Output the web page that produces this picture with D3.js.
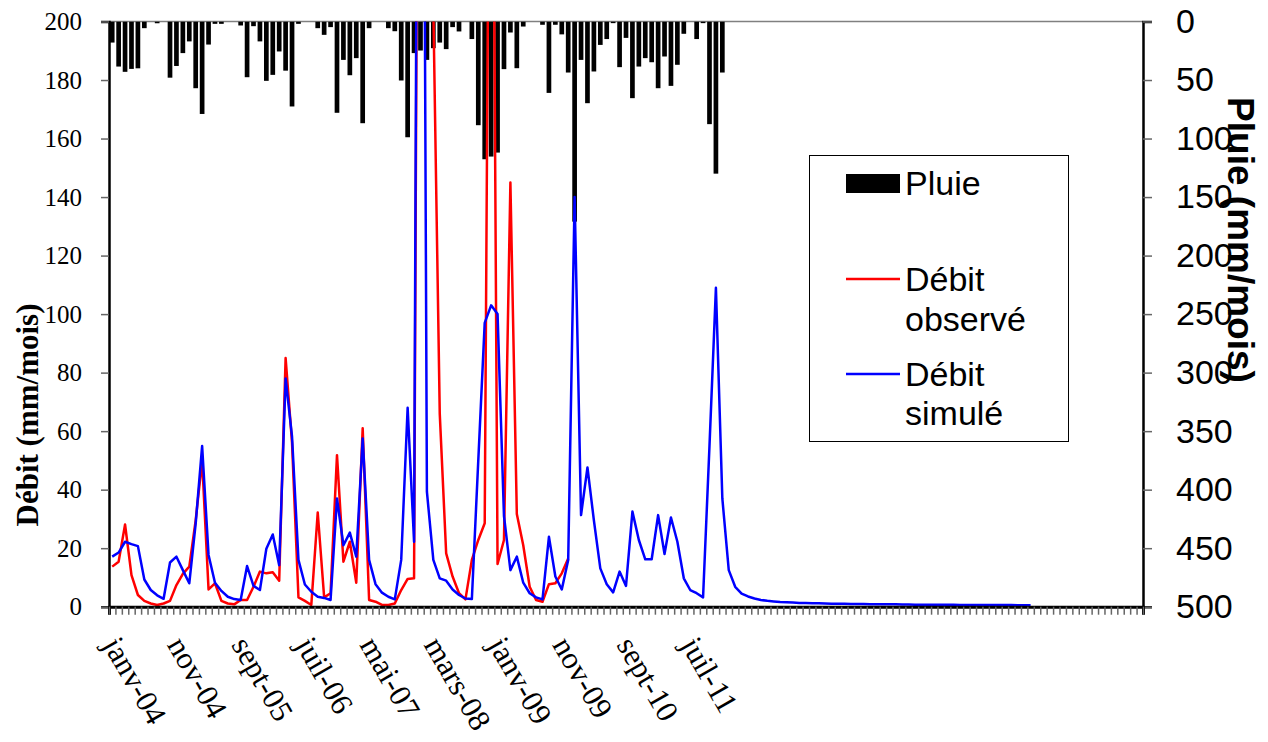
<!DOCTYPE html>
<html>
<head>
<meta charset="utf-8">
<script src="https://cdn.jsdelivr.net/npm/d3@7"></script>
<style>
  body { margin: 0; background: #fff; }
</style>
</head>
<body>
<div id="chart"></div>
<script>
// mois (format Excel fr) et nombre de catégories de l'axe
const moisFr = ['janv', 'févr', 'mars', 'avr', 'mai', 'juin', 'juil', 'août', 'sept', 'oct', 'nov', 'déc'];
const anneeDebut = 2004;
const nbCategories = 161;
const pasEtiquettes = 10;

const debitTicks = [0, 20, 40, 60, 80, 100, 120, 140, 160, 180, 200];
const pluieTicks = [0, 50, 100, 150, 200, 250, 300, 350, 400, 450, 500];

// pluie mensuelle (mm/mois), janv-04 -> déc-11
const pluie = [
  18, 38.5, 43, 40.5, 40, 5.7, 0, 1.5, 0, 48, 38, 27,
  17, 57, 79, 19.7, 2, 2, 0, 0, 3.4, 47.6, 4, 17,
  50.7, 45.6, 25.6, 42, 72.6, 2, 0, 0, 5.7, 11.4, 4.8, 78,
  32.8, 45.9, 31.3, 86.9, 5.7, 0, 0, 5.7, 8.3, 50.4, 98.9, 27,
  24.8, 32.8, 22.8, 18, 23.6, 4.8, 8.5, 0, 15, 88.6, 117.7, 115.4,
  112, 40.7, 9.4, 39.9, 4.3, 0, 0, 2.8, 61, 2.8, 11, 43.6,
  171, 32.8, 69.8, 42.7, 20, 15, 1.4, 39, 14, 65.5, 38.5, 31.3,
  34.8, 57, 29.9, 55, 37, 10.5, 0, 15, 1.4, 87.7, 130, 43.6
];

// débit observé (mm/mois), janv-04 -> déc-09
const debitObserve = [
  13.7, 15.4, 28.1, 10.8, 4, 2, 1.1, 0.6, 1.1, 2, 7.4, 11.2,
  13.7, 29.6, 50, 5.9, 8, 2, 1.1, 0.8, 2.3, 2.3, 6.8, 12,
  11.4, 11.8, 8.9, 85, 56, 3.2, 2, 0.6, 32.2, 3.2, 4.6, 51.8,
  15.4, 22.2, 8.2, 61, 2.3, 1.7, 0.6, 0.6, 1.1, 5.7, 9.5, 9.7,
  500, 400, 205, 66, 18.2, 10.3, 4.6, 2.5, 16, 22.8, 28.5, 385,
  14.6, 22.8, 145, 31.7, 21, 6.8, 2.3, 1.7, 7.7, 8, 11.4, 16.5
];

// débit simulé (mm/mois), janv-04 -> déc-15
const debitSimule = [
  17.1, 18.5, 22.2, 21.4, 20.7, 9.3, 5.7, 3.9, 2.7, 15.1, 17.1, 12.5,
  8, 28.5, 54.9, 17.7, 8.2, 5.4, 3.4, 2.6, 2.3, 13.9, 7.1, 5.7,
  19.8, 24.7, 14.2, 78, 58.1, 16, 7.6, 5.1, 3.4, 3, 2.3, 37,
  21, 25.3, 17.1, 57.5, 16, 7.7, 4.8, 3.4, 2.5, 16, 68, 22.2,
  550, 39.3, 16, 9.7, 8.9, 5.9, 4, 2.8, 2.6, 50, 97, 103,
  100, 31, 12.5, 17.1, 8.2, 4.6, 3.2, 2.5, 23.9, 10.3, 5.9, 16,
  140, 31.3, 47.6, 29.5, 13.1, 7.7, 4.9, 12, 7.1, 32.5, 22.8, 16.2,
  16.2, 31.3, 18, 30.5, 22.2, 9.7, 5.7, 4.6, 3.2, 55, 109, 37,
  12.5, 6.8, 4.5, 3.5, 2.8, 2.3, 2.0, 1.8, 1.6, 1.5, 1.4, 1.3,
  1.25, 1.2, 1.15, 1.1, 1.05, 1.0, 1.0, 0.95, 0.9, 0.9, 0.85, 0.85,
  0.8, 0.8, 0.8, 0.75, 0.75, 0.7, 0.7, 0.7, 0.7, 0.65, 0.65, 0.65,
  0.6, 0.6, 0.6, 0.6, 0.6, 0.55, 0.55, 0.55, 0.55, 0.5, 0.5, 0.5
];

const categories = d3.range(nbCategories).map(i => i < pluie.length
  ? `${moisFr[i % 12]}-${String((anneeDebut + Math.floor(i / 12)) % 100).padStart(2, '0')}`
  : '');

class PluieDebitChart {
  constructor(_config) {
    this.config = {
      parentElement: _config.parentElement,
      containerWidth: _config.containerWidth || 1268,
      containerHeight: _config.containerHeight || 742,
      margin: _config.margin || { top: 21.5, right: 125, bottom: 135.3, left: 109 },
      serif: '"Liberation Serif", "Times New Roman", serif',
      sans: '"Liberation Sans", Arial, sans-serif'
    }
    this.initVis();
  }

  initVis() {
    let vis = this;
    vis.width = vis.config.containerWidth - vis.config.margin.left - vis.config.margin.right;
    vis.height = vis.config.containerHeight - vis.config.margin.top - vis.config.margin.bottom;

    vis.svg = d3.select(vis.config.parentElement).append('svg')
      .attr('width', vis.config.containerWidth)
      .attr('height', vis.config.containerHeight);

    vis.chart = vis.svg.append('g')
      .attr('transform', `translate(${vis.config.margin.left},${vis.config.margin.top})`);

    vis.svg.append('defs').append('clipPath').attr('id', 'plot-clip')
      .append('rect').attr('width', vis.width).attr('height', vis.height);

    vis.xScale = d3.scaleBand()
      .domain(d3.range(nbCategories))
      .range([0, vis.width])
      .paddingInner(0.27)
      .paddingOuter(0.135);
    vis.xEdge = d3.scaleLinear().domain([0, nbCategories]).range([0, vis.width]);
    vis.yDebit = d3.scaleLinear().domain([0, 200]).range([vis.height, 0]);
    vis.yPluie = d3.scaleLinear().domain([0, 500]).range([0, vis.height]);

    vis.renderVis();
  }

  renderVis() {
    let vis = this;
    const cx = i => vis.xScale(i) + vis.xScale.bandwidth() / 2;

    // bordure haute
    vis.chart.append('line')
      .attr('x1', 0).attr('x2', vis.width).attr('y1', 0).attr('y2', 0)
      .attr('stroke', '#808080').attr('stroke-width', 1.5);

    const plot = vis.chart.append('g').attr('clip-path', 'url(#plot-clip)');

    plot.selectAll('.bar')
      .data(pluie)
      .join('rect')
      .attr('class', 'bar')
      .attr('x', (d, i) => vis.xScale(i))
      .attr('y', vis.yPluie(0))
      .attr('width', vis.xScale.bandwidth())
      .attr('height', d => vis.yPluie(d) - vis.yPluie(0))
      .attr('fill', '#000');

    const line = d3.line()
      .x((d, i) => cx(i))
      .y(d => vis.yDebit(d));

    plot.append('path')
      .datum(debitObserve)
      .attr('d', line)
      .attr('fill', 'none')
      .attr('stroke', '#ff0000')
      .attr('stroke-width', 2.5)
      .attr('stroke-linejoin', 'round');

    plot.append('path')
      .datum(debitSimule)
      .attr('d', line)
      .attr('fill', 'none')
      .attr('stroke', '#0000ff')
      .attr('stroke-width', 2.5)
      .attr('stroke-linejoin', 'round');

    // axe gauche (débit)
    vis.chart.append('g')
      .call(d3.axisLeft(vis.yDebit).tickValues(debitTicks).tickSize(8).tickPadding(19))
      .call(g => g.select('.domain').attr('stroke', '#000').attr('stroke-width', 2.5))
      .call(g => g.selectAll('.tick line').attr('stroke', '#666').attr('stroke-width', 1.5))
      .call(g => g.selectAll('.tick text')
        .attr('font-family', vis.config.serif).attr('font-size', 25).attr('fill', '#000'));

    // axe droit (pluie, inversé)
    vis.chart.append('g')
      .attr('transform', `translate(${vis.width},0)`)
      .call(d3.axisRight(vis.yPluie).tickValues(pluieTicks).tickSize(9).tickPadding(24))
      .call(g => g.select('.domain').attr('stroke', '#000').attr('stroke-width', 2.5))
      .call(g => g.selectAll('.tick line').attr('stroke', '#666').attr('stroke-width', 1.5))
      .call(g => g.selectAll('.tick text')
        .attr('font-family', vis.config.sans).attr('font-size', 34).attr('fill', '#000'));

    // axe des catégories
    vis.chart.append('g')
      .attr('transform', `translate(0,${vis.height})`)
      .call(d3.axisBottom(vis.xEdge).tickValues(d3.range(nbCategories + 1)).tickSize(8).tickFormat(''))
      .call(g => g.select('.domain').attr('stroke', '#000').attr('stroke-width', 3))
      .call(g => g.selectAll('.tick line').attr('stroke', '#666').attr('stroke-width', 1.5));

    vis.chart.append('g')
      .selectAll('text')
      .data(categories.map((c, i) => ({ c, i })).filter(d => d.c && d.i % pasEtiquettes === 0))
      .join('text')
      .attr('transform', d => `translate(${cx(d.i) - 10},${vis.height + 38}) rotate(60)`)
      .attr('font-family', vis.config.serif)
      .attr('font-size', 31)
      .text(d => d.c);

    // titres d'axes
    vis.svg.append('text')
      .attr('transform', 'translate(38,415) rotate(-90)')
      .attr('text-anchor', 'middle')
      .attr('font-family', vis.config.serif)
      .attr('font-weight', 'bold')
      .attr('font-size', 31)
      .text('Débit (mm/mois)');

    vis.svg.append('text')
      .attr('transform', 'translate(1228,240) rotate(90)')
      .attr('text-anchor', 'middle')
      .attr('font-family', vis.config.sans)
      .attr('font-weight', 'bold')
      .attr('font-size', 37)
      .text('Pluie (mm/mois)');

    // légende
    const legend = vis.svg.append('g');
    legend.append('rect')
      .attr('x', 809.5).attr('y', 155.5).attr('width', 259).attr('height', 286)
      .attr('fill', '#fff').attr('stroke', '#000').attr('stroke-width', 1);
    legend.append('rect')
      .attr('x', 846).attr('y', 174).attr('width', 54).attr('height', 19).attr('fill', '#000');
    legend.append('line')
      .attr('x1', 846).attr('x2', 900).attr('y1', 279).attr('y2', 279)
      .attr('stroke', '#ff0000').attr('stroke-width', 2.5);
    legend.append('line')
      .attr('x1', 846).attr('x2', 900).attr('y1', 374).attr('y2', 374)
      .attr('stroke', '#0000ff').attr('stroke-width', 2.5);

    const legendTexts = [
      { t: 'Pluie', y: 195 },
      { t: 'Débit', y: 291 },
      { t: 'observé', y: 331 },
      { t: 'Débit', y: 386 },
      { t: 'simulé', y: 425 }
    ];
    legend.selectAll('.lt')
      .data(legendTexts)
      .join('text')
      .attr('class', 'lt')
      .attr('x', 905)
      .attr('y', d => d.y)
      .attr('font-family', vis.config.sans)
      .attr('font-size', 34)
      .text(d => d.t);
  }
}

new PluieDebitChart({ parentElement: '#chart' });
</script>
</body>
</html>
